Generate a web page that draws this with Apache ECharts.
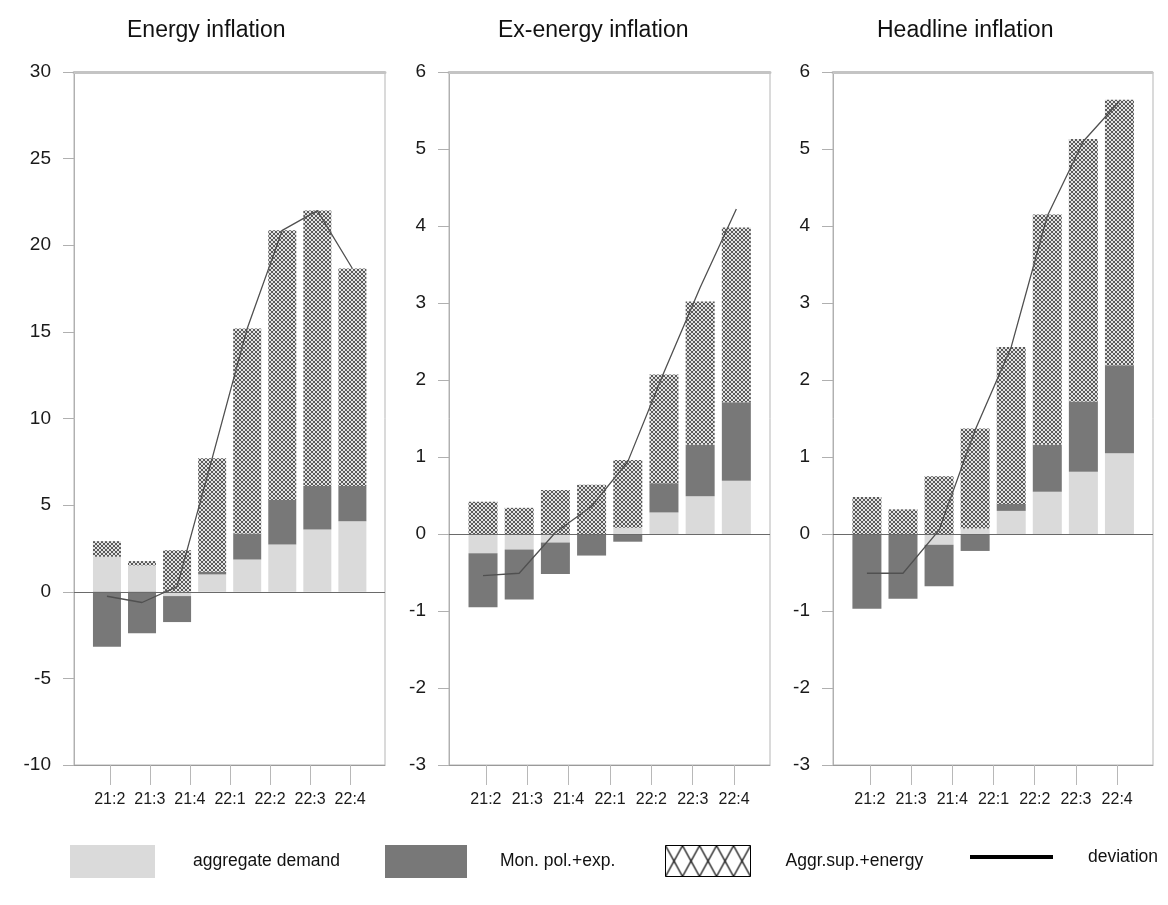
<!DOCTYPE html>
<html>
<head>
<meta charset="utf-8">
<script src="https://cdn.jsdelivr.net/npm/echarts@6/dist/echarts.min.js"></script>
<style>html,body{margin:0;padding:0;background:#fff}#c{width:1168px;height:905px}</style>
</head>
<body>
<div id="c"></div>
<script>
// ---- data ----
const CATEGORIES = ['21:2', '21:3', '21:4', '22:1', '22:2', '22:3', '22:4'];
const TITLES = ['Energy inflation', 'Ex-energy inflation', 'Headline inflation'];
const SERIES_NAMES = ['aggregate demand', 'Mon. pol.+exp.', 'Aggr.sup.+energy', 'deviation'];

const ENERGY_AD  = [2.02, 1.52, -0.25, 1.00, 1.86, 2.73, 3.60, 4.07];
const ENERGY_MP  = [-3.18, -2.40, -1.50, 0.15, 1.50, 2.56, 2.50, 2.03];
const ENERGY_AS  = [0.90, 0.25, 2.40, 6.55, 11.84, 15.57, 15.90, 12.56];
const ENERGY_DEV = [-0.26, -0.62, 0.30, 7.70, 15.20, 20.86, 22.00, 18.66];

const EXEN_AD  = [-0.25, -0.20, -0.11, 0.00, 0.08, 0.28, 0.49, 0.69];
const EXEN_MP  = [-0.70, -0.65, -0.41, -0.28, -0.10, 0.38, 0.67, 1.02];
const EXEN_AS  = [0.42, 0.34, 0.57, 0.64, 0.88, 1.41, 1.86, 2.27];
const EXEN_DEV = [-0.54, -0.51, 0.02, 0.36, 0.94, 2.10, 3.20, 4.22];

const HEAD_AD  = [0.00, 0.00, -0.14, 0.07, 0.30, 0.55, 0.81, 1.05];
const HEAD_MP  = [-0.97, -0.84, -0.54, -0.22, 0.09, 0.61, 0.91, 1.14];
const HEAD_AS  = [0.48, 0.32, 0.75, 1.30, 2.04, 2.99, 3.41, 3.45];
const HEAD_DEV = [-0.51, -0.51, 0.05, 1.35, 2.43, 4.13, 5.10, 5.62];

const Y_MIN  = [-10, -3, -3];
const Y_MAX  = [30, 6, 6];
const Y_STEP = [5, 1, 1];

// ---- layout / style ----
const FONT = "'Liberation Sans', Arial, sans-serif";
const GRID_LEFT = [74, 449, 833];
const GRID_WIDTH = [311, 321, 320];
const GRID_TOP = 72, GRID_HEIGHT = 693;
const BAR_W = [28, 29, 29];
const TITLE_LEFT = [122, 493, 872];
const X_MIN = -0.94, X_MAX = 7.93;
const TICK_OFFSET = 0.08, TICK_STEP = 8 / 7;
const C_AD = '#dadada', C_MP = '#787878';

function makeHatch(w, h, bg, fg, lw) {
  const c = document.createElement('canvas');
  c.width = w; c.height = h;
  const g = c.getContext('2d');
  g.fillStyle = bg; g.fillRect(0, 0, w, h);
  g.strokeStyle = fg; g.lineWidth = lw;
  g.beginPath();
  g.moveTo(0, 0); g.lineTo(w, h);
  g.moveTo(w, 0); g.lineTo(0, h);
  g.stroke();
  return c;
}
const HATCH_BAR = { image: makeHatch(4, 4, '#e2e2e2', '#5a5a5a', 1), repeat: 'repeat' };
const HATCH_LEG = { image: makeHatch(17, 31, '#ffffff', '#000000', 1.2), repeat: 'repeat' };

const PANELS = [
  [ENERGY_AD, ENERGY_MP, ENERGY_AS, ENERGY_DEV],
  [EXEN_AD, EXEN_MP, EXEN_AS, EXEN_DEV],
  [HEAD_AD, HEAD_MP, HEAD_AS, HEAD_DEV]
];
const tickVals = CATEGORIES.map((c, k) => TICK_OFFSET + k * TICK_STEP);

const grid = [], xAxis = [], yAxis = [], series = [], title = [];
PANELS.forEach((p, i) => {
  grid.push({ left: GRID_LEFT[i], width: GRID_WIDTH[i], top: GRID_TOP, height: GRID_HEIGHT,
    show: true, borderColor: '#b5b5b5', borderWidth: 1, backgroundColor: 'transparent' });
  xAxis.push({
    type: 'value', gridIndex: i, min: X_MIN, max: X_MAX,
    axisLine: { show: true, onZero: false, lineStyle: { color: '#9a9a9a', width: 1 } },
    axisTick: { show: true, length: 20, customValues: tickVals, lineStyle: { color: '#b8b8b8' } },
    axisLabel: { show: true, customValues: tickVals, margin: 27, fontFamily: FONT, fontSize: 16, color: '#1a1a1a',
      formatter: v => CATEGORIES[Math.round((v - TICK_OFFSET) / TICK_STEP)] || '' },
    splitLine: { show: false }
  });
  xAxis.push({
    type: 'value', gridIndex: i, min: X_MIN, max: X_MAX, position: 'top',
    axisLine: { show: true, onZero: false, lineStyle: { color: '#c4c4c4', width: 3, type: [3, 1] } },
    axisTick: { show: false }, axisLabel: { show: false }, splitLine: { show: false }
  });
  yAxis.push({
    type: 'value', gridIndex: i, min: Y_MIN[i], max: Y_MAX[i], interval: Y_STEP[i],
    axisLine: { show: true, onZero: false, lineStyle: { color: '#b0b0b0' } },
    axisTick: { show: true, length: 11, lineStyle: { color: '#b0b0b0' } },
    axisLabel: { margin: 23, fontFamily: FONT, fontSize: 19, color: '#1a1a1a' },
    splitLine: { show: false }
  });
  title.push({ text: TITLES[i], left: TITLE_LEFT[i], top: 14,
    textStyle: { fontFamily: FONT, fontSize: 23, fontWeight: 'normal', color: '#111' } });
  const xi = i * 2;
  const colors = [C_AD, C_MP, HATCH_BAR];
  [0, 1, 2].forEach(k => {
    const s = {
      name: SERIES_NAMES[k], type: 'bar', xAxisIndex: xi, yAxisIndex: i, stack: 'p' + i,
      barWidth: BAR_W[i], itemStyle: { color: colors[k] },
      // value first so the stack is applied to the y dimension
      data: p[k].map((v, j) => [v, j]), encode: { x: 1, y: 0 },
      animation: false, silent: true
    };
    if (k === 0) {
      s.markLine = { silent: true, symbol: 'none', label: { show: false },
        lineStyle: { color: '#6a6a6a', type: 'solid', width: 1 }, data: [{ yAxis: 0 }] };
    }
    series.push(s);
  });
  series.push({
    name: SERIES_NAMES[3], type: 'line', xAxisIndex: xi, yAxisIndex: i,
    data: p[3].map((v, j) => [v, j]), encode: { x: 1, y: 0 }, showSymbol: false, symbol: 'none',
    lineStyle: { color: '#505050', width: 1.3 }, itemStyle: { color: '#000' }, z: 5,
    animation: false, silent: true
  });
});

const legTxt = (pad) => ({ fontFamily: FONT, fontSize: 17.5, color: '#111', padding: [0, 0, 0, pad] });
const legend = [
  { left: 65, top: 840, itemWidth: 85, itemHeight: 33, icon: 'rect', selectedMode: false,
    data: [{ name: SERIES_NAMES[0], itemStyle: { color: C_AD } }], textStyle: legTxt(33) },
  { left: 380, top: 840, itemWidth: 82, itemHeight: 33, icon: 'rect', selectedMode: false,
    data: [{ name: SERIES_NAMES[1], itemStyle: { color: C_MP } }], textStyle: legTxt(28) },
  { left: 660, top: 840, itemWidth: 85, itemHeight: 31, icon: 'rect', selectedMode: false,
    data: [{ name: SERIES_NAMES[2], itemStyle: { color: HATCH_LEG, borderColor: '#000', borderWidth: 1 } }], textStyle: legTxt(30) },
  { left: 965, top: 843, itemWidth: 83, itemHeight: 4, icon: 'rect', selectedMode: false,
    data: [{ name: SERIES_NAMES[3], itemStyle: { color: '#000' } }], textStyle: legTxt(30) }
];

const chart = echarts.init(document.getElementById('c'), null, { renderer: 'canvas' });
chart.setOption({ animation: false, backgroundColor: '#fff', title, grid, xAxis, yAxis, legend, series });
</script>
</body>
</html>
